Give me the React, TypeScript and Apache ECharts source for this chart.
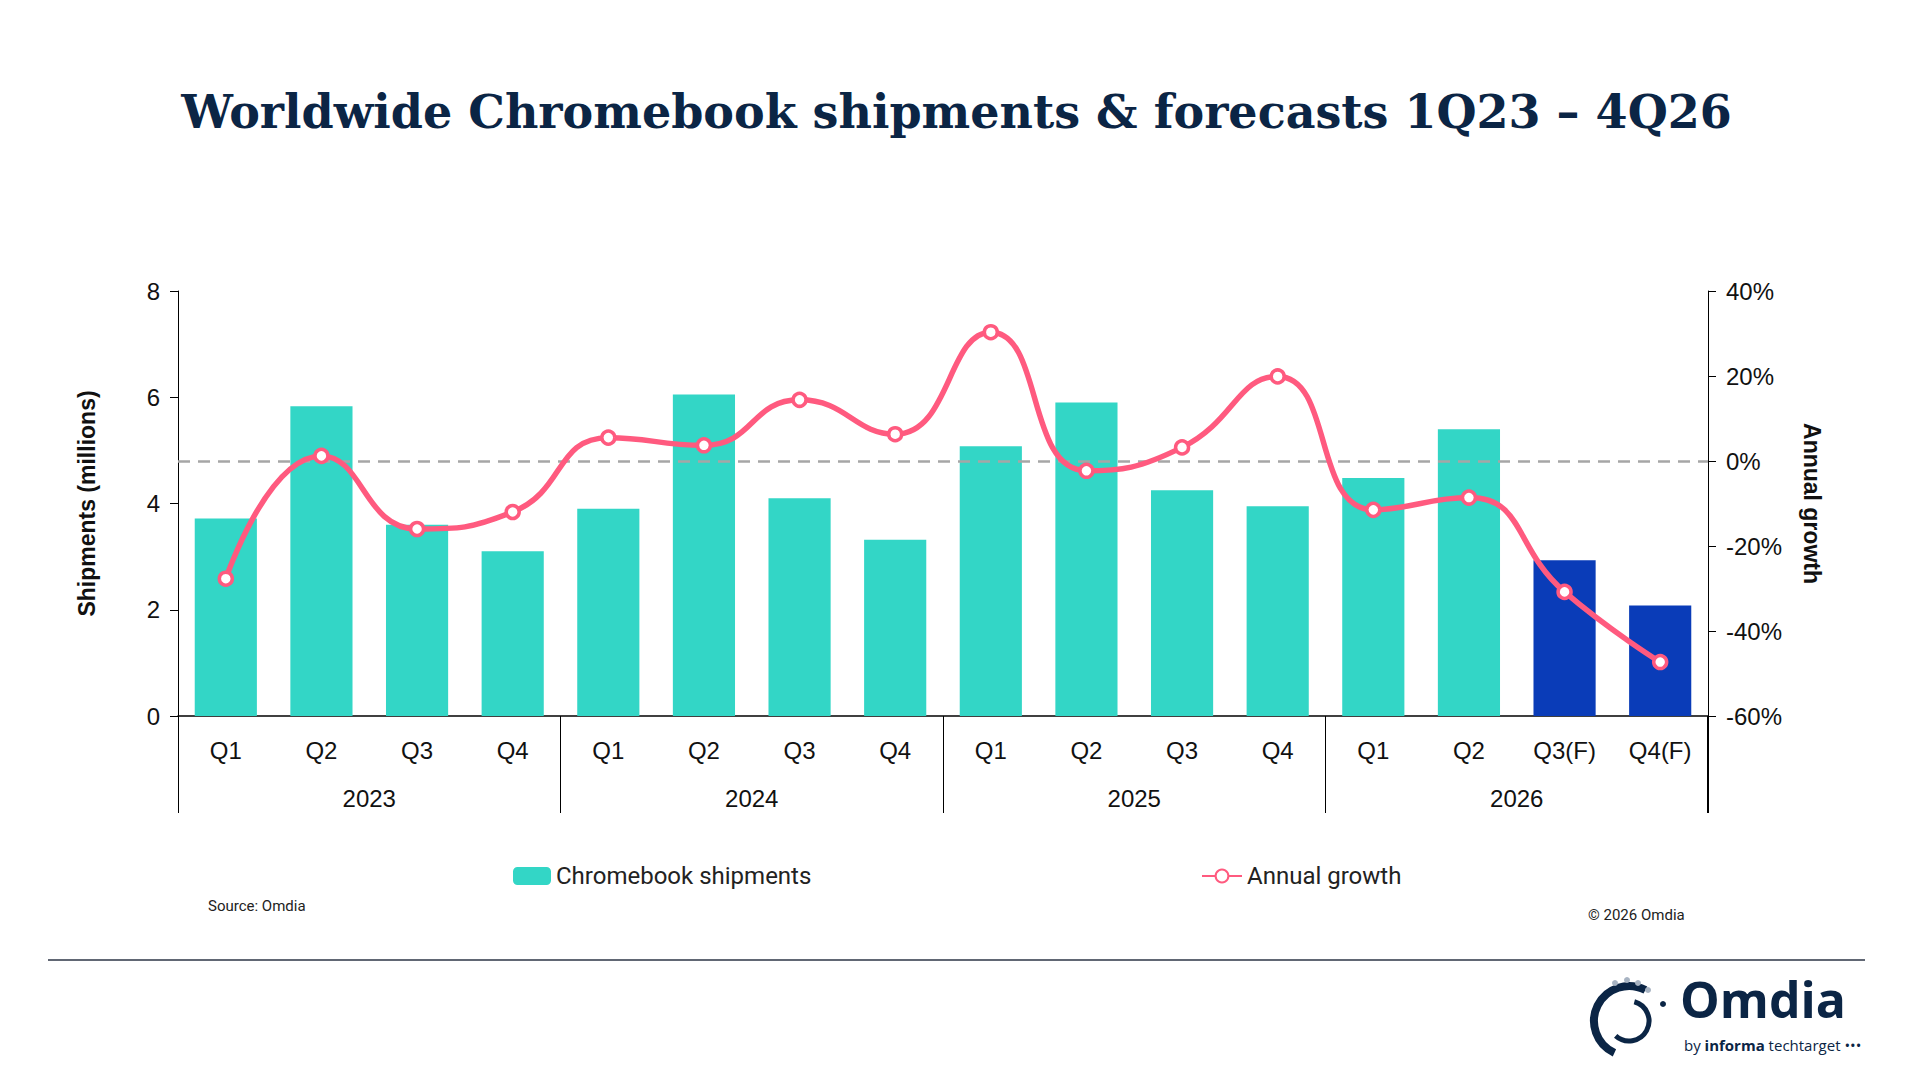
import React, { useEffect, useRef } from "react";
import * as echarts from "echarts";

const quarters = ["Q1", "Q2", "Q3", "Q4", "Q1", "Q2", "Q3", "Q4", "Q1", "Q2", "Q3", "Q4", "Q1", "Q2", "Q3(F)", "Q4(F)"];
const years = ["2023", "2024", "2025", "2026"];
const shipments = [3.72, 5.83, 3.6, 3.1, 3.9, 6.05, 4.1, 3.32, 5.08, 5.9, 4.25, 3.95, 4.48, 5.4, 2.93, 2.08];
const growth = [-27.7, 1.2, -16, -12, 5.5, 3.7, 14.4, 6.3, 30.3, -2.3, 3.2, 19.9, -11.5, -8.6, -30.8, -47.3];
const forecastFrom = 14;

const TEAL = "#33d6c6";
const BLUE = "#0a3cb8";
const PINK = "#ff5a7f";
const NAVY = "#0b2545";
const NARROW = "'Liberation Sans Narrow', 'Arial Narrow', 'Liberation Sans', sans-serif";

const App: React.FC = () => {
  const ref = useRef<HTMLDivElement>(null);

  useEffect(() => {
    if (!ref.current) return;
    const chart = echarts.init(ref.current, null, { renderer: "svg" });

    const option: echarts.EChartsOption = {
      animation: false,
      backgroundColor: "#fff",
      title: {
        text: "Worldwide Chromebook shipments & forecasts 1Q23 – 4Q26",
        left: "center",
        top: 84,
        textStyle: { fontFamily: "'DejaVu Serif', serif", fontSize: 46, fontWeight: "bold", color: NAVY },
      },
      grid: { left: 178, right: 205, top: 291, bottom: 356 },
      legend: [
        {
          data: ["Chromebook shipments"],
          left: 508,
          top: 859,
          itemWidth: 38,
          itemHeight: 18,
          textStyle: { fontFamily: "Roboto, sans-serif", fontSize: 24, color: "#222" },
        },
        {
          data: ["Annual growth"],
          left: 1196,
          top: 859,
          itemWidth: 40,
          itemHeight: 16,
          textStyle: { fontFamily: "Roboto, sans-serif", fontSize: 24, color: "#222" },
        },
      ],
      xAxis: [
        {
          type: "category",
          data: quarters,
          axisLine: { onZero: false, lineStyle: { color: "#000", width: 1.5 } },
          axisTick: { show: false },
          axisLabel: { margin: 22, fontSize: 24, color: "#111", fontFamily: NARROW },
        },
        {
          type: "category",
          data: years,
          position: "bottom",
          axisLine: { show: false, onZero: false },
          axisTick: { show: true, length: 97, lineStyle: { color: "#000", width: 1 } },
          axisLabel: { margin: 70, fontSize: 24, color: "#111", fontFamily: NARROW },
        },
      ],
      yAxis: [
        {
          type: "value",
          min: 0,
          max: 8,
          interval: 2,
          name: "Shipments (millions)",
          nameLocation: "middle",
          nameGap: 80,
          nameTextStyle: { fontFamily: "'Liberation Sans', sans-serif", fontWeight: "bold", fontSize: 23, color: "#111" },
          axisLine: { show: true, lineStyle: { color: "#000" } },
          axisTick: { show: true, length: 8, lineStyle: { color: "#000" } },
          splitLine: { show: false },
          axisLabel: { fontSize: 24, color: "#111", fontFamily: NARROW, margin: 18 },
        },
        {
          type: "value",
          min: -60,
          max: 40,
          interval: 20,
          name: "Annual growth",
          nameLocation: "middle",
          nameRotate: -90,
          nameGap: 92,
          nameTextStyle: { fontFamily: "'Liberation Sans', sans-serif", fontWeight: "bold", fontSize: 23, color: "#111" },
          axisLine: { show: true, lineStyle: { color: "#000" } },
          axisTick: { show: true, length: 8, lineStyle: { color: "#000" } },
          splitLine: { show: false },
          axisLabel: { fontSize: 24, color: "#111", fontFamily: NARROW, margin: 18, formatter: "{value}%" },
        },
      ],
      series: [
        {
          name: "Chromebook shipments",
          type: "bar",
          data: shipments.map((v, i) => ({ value: v, itemStyle: { color: i >= forecastFrom ? BLUE : TEAL } })),
          itemStyle: { color: TEAL },
          barCategoryGap: "35%",
        },
        {
          name: "Annual growth",
          type: "line",
          yAxisIndex: 1,
          data: growth,
          smooth: 0.5,
          lineStyle: { color: PINK, width: 5.5 },
          itemStyle: { color: "#fff", borderColor: PINK, borderWidth: 3.5 },
          symbol: "circle",
          symbolSize: 13,
          z: 5,
          markLine: {
            silent: true,
            symbol: "none",
            label: { show: false },
            lineStyle: { color: "#a6a6a6", type: [12, 8], width: 2.5 },
            data: [{ yAxis: 0 }],
            z: 3,
          },
        },
      ],
      graphic: [
        { type: "line", shape: { x1: 178.5, y1: 716, x2: 178.5, y2: 813 }, style: { stroke: "#000", lineWidth: 1 } },
        { type: "line", shape: { x1: 1707.5, y1: 716, x2: 1707.5, y2: 813 }, style: { stroke: "#000", lineWidth: 1 } },
        { type: "text", left: 208, top: 898, style: { text: "Source: Omdia", fontFamily: "Roboto, sans-serif", fontSize: 15, fill: "#222" } },
        { type: "text", left: 1588, top: 907, style: { text: "© 2026 Omdia", fontFamily: "Roboto, sans-serif", fontSize: 15, fill: "#222" } },
        { type: "line", shape: { x1: 48, y1: 960, x2: 1865, y2: 960 }, style: { stroke: "#2c3446", lineWidth: 1.5 } },
        { type: "arc", shape: { cx: 1629, cy: 1021, r: 35, startAngle: 2.0, endAngle: 5.2 }, style: { stroke: NAVY, lineWidth: 8, fill: "none" } },
        { type: "arc", shape: { cx: 1629, cy: 1021, r: 20, startAngle: -1.3, endAngle: 2.3 }, style: { stroke: NAVY, lineWidth: 5, fill: "none" } },
        { type: "circle", shape: { cx: 1663, cy: 1004, r: 3 }, style: { fill: NAVY } },
        { type: "circle", shape: { cx: 1615, cy: 983, r: 3 }, style: { fill: "#a7b3c2" } },
        { type: "circle", shape: { cx: 1627, cy: 980, r: 3 }, style: { fill: "#a7b3c2" } },
        { type: "circle", shape: { cx: 1638, cy: 983, r: 3 }, style: { fill: "#a7b3c2" } },
        { type: "circle", shape: { cx: 1648, cy: 990, r: 3 }, style: { fill: "#a7b3c2" } },
        { type: "text", left: 1680, top: 974, style: { text: "Omdia", fontFamily: "'Open Sans', sans-serif", fontWeight: "bold", fontSize: 50, fill: NAVY } },
        {
          type: "text",
          left: 1684,
          top: 1037,
          style: {
            text: "by {b|informa} techtarget •••",
            fontFamily: "'Open Sans', sans-serif",
            fontSize: 15,
            fill: NAVY,
            rich: { b: { fontWeight: "bold", fontSize: 15, fill: NAVY, fontFamily: "'Open Sans', sans-serif" } },
          } as any,
        },
      ],
    };

    chart.setOption(option as any);
    return () => chart.dispose();
  }, []);

  return <div ref={ref} style={{ position: "fixed", left: 0, top: 0, width: 1913, height: 1072 }} />;
};

export default App;
